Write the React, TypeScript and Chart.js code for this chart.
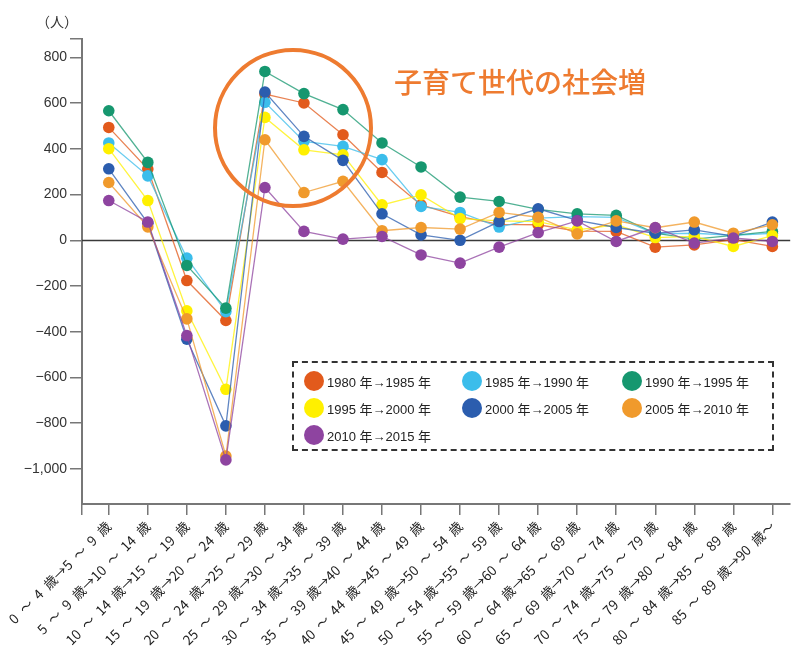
import React, { useEffect, useRef } from 'react';
import { Chart, registerables } from 'chart.js';

Chart.register(...registerables);

const categories = [
  '0 ～ 4 歳→5 ～ 9 歳',
  '5 ～ 9 歳→10 ～ 14 歳',
  '10 ～ 14 歳→15 ～ 19 歳',
  '15 ～ 19 歳→20 ～ 24 歳',
  '20 ～ 24 歳→25 ～ 29 歳',
  '25 ～ 29 歳→30 ～ 34 歳',
  '30 ～ 34 歳→35 ～ 39 歳',
  '35 ～ 39 歳→40 ～ 44 歳',
  '40 ～ 44 歳→45 ～ 49 歳',
  '45 ～ 49 歳→50 ～ 54 歳',
  '50 ～ 54 歳→55 ～ 59 歳',
  '55 ～ 59 歳→60 ～ 64 歳',
  '60 ～ 64 歳→65 ～ 69 歳',
  '65 ～ 69 歳→70 ～ 74 歳',
  '70 ～ 74 歳→75 ～ 79 歳',
  '75 ～ 79 歳→80 ～ 84 歳',
  '80 ～ 84 歳→85 ～ 89 歳',
  '85 ～ 89 歳→90 歳～',
];

const seriesNames = [
  '1980 年→1985 年',
  '1985 年→1990 年',
  '1990 年→1995 年',
  '1995 年→2000 年',
  '2000 年→2005 年',
  '2005 年→2010 年',
  '2010 年→2015 年',
];

const seriesColors = ['#E25A1C', '#3BBDEB', '#16976F', '#FFF000', '#2B5DAE', '#F09A2C', '#8E44A0'];

const s1980 = [494, 312, -176, -351, 640, 601, 462, 297, 155, 104, 70, 68, 40, 39, -30, -20, 3, -27];
const s1985 = [426, 282, -78, -312, 604, 433, 411, 353, 148, 122, 58, 97, 104, 100, 28, 31, 22, 31];
const s1990 = [567, 341, -110, -297, 739, 642, 572, 426, 321, 189, 170, 135, 116, 109, 31, 5, 22, 39];
const s1995 = [401, 174, -309, -652, 538, 396, 374, 155, 199, 95, 85, 82, 46, 68, 12, 17, -27, 21];
const s2000 = [313, 75, -433, -812, 649, 455, 350, 116, 24, 0, 82, 138, 87, 56, 31, 46, 18, 80];
const s2005 = [253, 59, -344, -944, 440, 209, 258, 42, 56, 49, 122, 101, 28, 85, 55, 80, 31, 68];
const s2010 = [174, 80, -417, -961, 231, 39, 5, 17, -64, -100, -30, 34, 85, -5, 56, -12, 10, -5];

const seriesValues = [s1980, s1985, s1990, s1995, s2000, s2005, s2010];

const yTickValues = [800, 600, 400, 200, 0, -200, -400, -600, -800, -1000];
const yTickLabels = ['800', '600', '400', '200', '0', '−200', '−400', '−600', '−800', '−1,000'];

const unitLabel = '（人）';
const annotationText = '子育て世代の社会増';

export default function App() {
  const ref = useRef<HTMLCanvasElement>(null);

  useEffect(() => {
    const zeroLine = {
      id: 'zeroLine',
      beforeDatasetsDraw(chart: any) {
        const { ctx, chartArea, scales } = chart;
        const y = Math.round(scales.y.getPixelForValue(0)) + 0.5;
        ctx.save();
        ctx.strokeStyle = '#3a3a3a';
        ctx.lineWidth = 1.3;
        ctx.beginPath();
        ctx.moveTo(chartArea.left, y);
        ctx.lineTo(chartArea.right, y);
        ctx.stroke();
        ctx.restore();
      },
    };

    const chart = new Chart(ref.current as HTMLCanvasElement, {
      type: 'line',
      data: {
        datasets: seriesValues.map((vals, i) => ({
          label: seriesNames[i],
          data: vals.map((v, j) => ({ x: j, y: v })),
          borderColor: seriesColors[i] + 'C0',
          backgroundColor: seriesColors[i],
          pointBackgroundColor: seriesColors[i],
          pointBorderColor: seriesColors[i],
          pointBorderWidth: 0,
          pointRadius: 5.8,
          borderWidth: 1.3,
          tension: 0,
          order: -i,
        })),
      },
      options: {
        responsive: false,
        animation: false,
        layout: { padding: { top: 39, left: 0, right: 0, bottom: 0 } },
        plugins: { legend: { display: false }, tooltip: { enabled: false } },
        scales: {
          x: {
            type: 'linear',
            min: -0.686,
            max: 17.457,
            afterBuildTicks: (s: any) => {
              s.ticks = [{ value: s.min }, ...categories.map((_, i) => ({ value: i }))];
            },
            afterFit: (s: any) => {
              s.height = 144;
            },
            ticks: {
              autoSkip: false,
              minRotation: 45,
              maxRotation: 45,
              padding: 3,
              color: '#222',
              font: { family: '"Noto Sans CJK JP", sans-serif', size: 13.5 },
              callback: (v: any) => {
                const label = categories[v as number];
                return label ? label.split(' ').join('\u2002') : '';
              },
            },
            grid: { drawOnChartArea: false, drawTicks: true, tickLength: 11, color: '#777', lineWidth: 1.5 },
            border: { display: true, color: '#777', width: 2 },
          },
          y: {
            type: 'linear',
            min: -1154,
            max: 881,
            afterBuildTicks: (s: any) => {
              s.ticks = [{ value: s.max }, ...yTickValues.map((v) => ({ value: v }))];
            },
            afterFit: (s: any) => {
              s.width = 82;
            },
            ticks: {
              padding: 3,
              color: '#333',
              font: { family: '"Liberation Sans", Arial, sans-serif', size: 14 },
              callback: (v: any) => {
                const idx = yTickValues.indexOf(v as number);
                return idx >= 0 ? yTickLabels[idx] : '';
              },
            },
            grid: { drawOnChartArea: false, drawTicks: true, tickLength: 12, color: '#777', lineWidth: 1.5 },
            border: { display: true, color: '#777', width: 2 },
          },
        },
      },
      plugins: [zeroLine],
    } as any);

    return () => chart.destroy();
  }, []);

  const legendPos = [
    [0, 0], [1, 0], [2, 0],
    [0, 1], [1, 1], [2, 1],
    [0, 2],
  ];
  const colX = [10, 168, 328];
  const rowY = [8, 35, 62];

  return (
    <div style={{ position: 'fixed', left: 0, top: 0, width: 796, height: 648, background: '#fff', overflow: 'hidden' }}>
      <canvas ref={ref} width={796} height={648} style={{ position: 'absolute', left: 0, top: 0 }} />
      <div
        style={{
          position: 'absolute', left: 36, top: 12, fontSize: 14, color: '#333',
          fontFamily: '"Noto Sans CJK JP", sans-serif', lineHeight: '18px',
        }}
      >
        {unitLabel}
      </div>
      <div
        style={{
          position: 'absolute', left: 213, top: 48, width: 152, height: 152,
          border: '4px solid #EE7B30', borderRadius: '50%',
        }}
      />
      <div
        style={{
          position: 'absolute', left: 394, top: 63, fontSize: 28, color: '#EE7B30',
          fontFamily: '"Noto Sans CJK JP", sans-serif', fontWeight: 500, lineHeight: '36px', whiteSpace: 'nowrap',
        }}
      >
        {annotationText}
      </div>
      <div
        style={{
          position: 'absolute', left: 292, top: 361, width: 478, height: 86,
          border: '2px dashed #333',
        }}
      >
        {seriesNames.map((name, i) => (
          <div
            key={name}
            style={{
              position: 'absolute', left: colX[legendPos[i][0]], top: rowY[legendPos[i][1]],
              display: 'flex', alignItems: 'center', whiteSpace: 'nowrap',
            }}
          >
            <span
              style={{
                display: 'inline-block', width: 20, height: 20, borderRadius: '50%',
                background: seriesColors[i], marginRight: 3,
              }}
            />
            <span
              style={{
                fontSize: 13, color: '#222', fontFamily: '"Liberation Sans", "Noto Sans CJK JP", sans-serif',
              }}
            >
              {name}
            </span>
          </div>
        ))}
      </div>
    </div>
  );
}
